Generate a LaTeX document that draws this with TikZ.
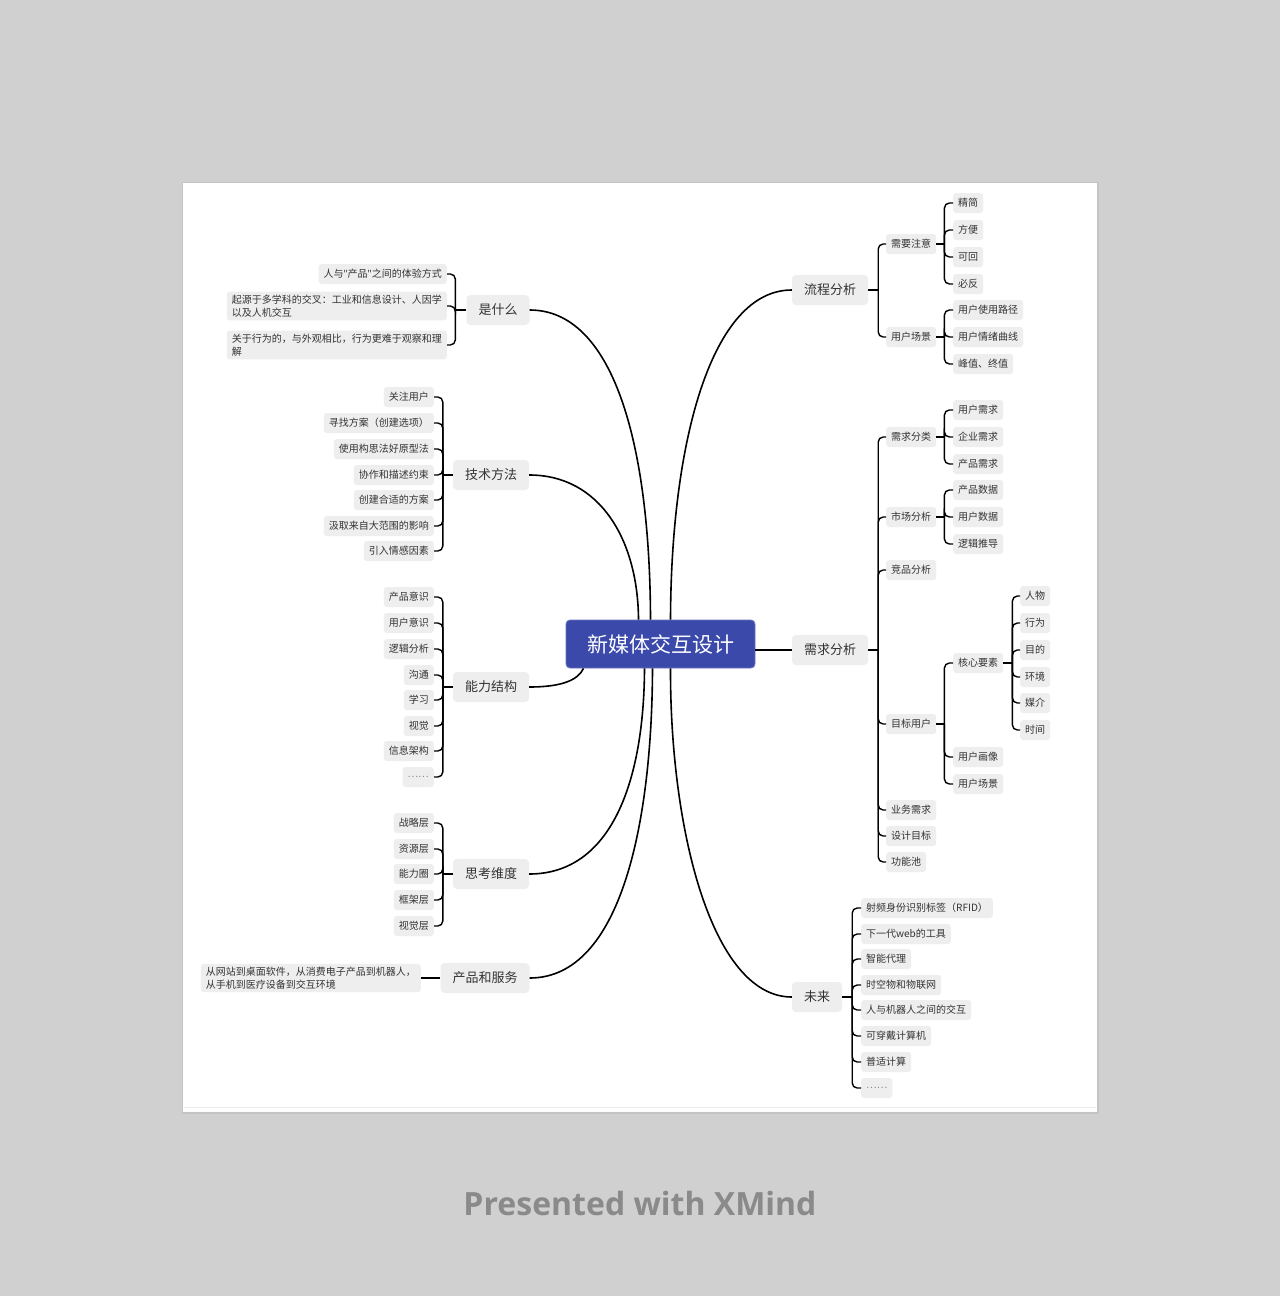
\documentclass[tikz,border=0pt]{standalone}
\usepackage{fontspec}
\setmainfont{Noto Sans CJK SC}
\newfontfamily\footfont{Open Sans}
\newfontfamily\latinq{Noto Sans}
\usetikzlibrary{calc}
\definecolor{bg}{HTML}{D0D0D0}
\definecolor{shadowc}{HTML}{C4C4C4}
\definecolor{boxg}{HTML}{EEEEEE}
\definecolor{txt}{HTML}{333333}
\definecolor{central}{HTML}{3A49AA}
\definecolor{footc}{HTML}{8A8A8A}
\newcommand\mybrR[3]{%
  \coordinate (#1j) at ($(#1.east)+(#2,0)$);
  \draw[conn] (#1.east) -- (#1j);
  \foreach \q in {#3}{\draw[conn] (#1j) |- (\q.west);}
}
\newcommand\mybrL[3]{%
  \coordinate (#1j) at ($(#1.west)+(-#2,0)$);
  \draw[conn] (#1.west) -- (#1j);
  \foreach \q in {#3}{\draw[conn] (#1j) |- (\q.east);}
}
\begin{document}
\begin{tikzpicture}[x=1pt,y=-1pt,
  conn/.style={line width=1.4pt, black, rounded corners=5pt},
  curve/.style={line width=1.6pt, black},
  ctr/.style={fill=central, draw=central!75!white, line width=0.8pt, rounded corners=4pt, text=white, font=\fontsize{21}{24}\selectfont, minimum width=189pt, minimum height=48pt, inner sep=0pt},
  mainn/.style={fill=boxg, rounded corners=4pt, text=txt, font=\fontsize{13}{15}\selectfont, minimum height=30pt, inner xsep=12pt, inner ysep=0pt},
  subn/.style={fill=boxg, rounded corners=3pt, text=txt, font=\fontsize{10}{12}\selectfont, minimum height=20pt, inner xsep=5pt, inner ysep=0pt},
  longn/.style={subn, align=left, font=\fontsize{10}{13.5}\selectfont, inner ysep=3pt},
  dotn/.style={subn, text=black!45},
]
\fill[bg] (0,0) rectangle (1280,1296);
\useasboundingbox (0,0) rectangle (1280,1296);
\fill[shadowc] (181.5,181.5) rectangle (1098.5,1113.5);
\fill[white] (183,183) rectangle (1097,1112);
\draw[black!8, line width=1.2pt] (184,1107.5) -- (1096,1107.5);

% central
\node[ctr] (c) at (660.5,644) {新媒体交互设计};

% main topics
\node[mainn] (lc) at (830,290) {流程分析};
\node[mainn] (xq) at (830,650) {需求分析};
\node[mainn] (wl) at (817,997) {未来};
\node[mainn] (ss) at (498,310) {是什么};
\node[mainn] (js) at (491,475) {技术方法};
\node[mainn] (nl) at (491,687) {能力结构};
\node[mainn] (sk) at (491,874) {思考维度};
\node[mainn] (cp) at (485,978) {产品和服务};

% curves from center
\draw[curve] (ss.east) .. controls (612,310) and (650,440) .. ([xshift=-10pt]c.north);
\draw[curve] (js.east) .. controls (600,475) and (638,540) .. ([xshift=-22pt]c.north);
\draw[curve] (lc.west) .. controls (712,290) and (671,440) .. ([xshift=10pt]c.north);
\draw[curve] (nl.east) .. controls (562,687) and (578,680) .. ([xshift=-77pt]c.south);
\draw[curve] (sk.east) .. controls (612,874) and (644,780) .. ([xshift=-16pt]c.south);
\draw[curve] (cp.east) .. controls (622,978) and (652,820) .. ([xshift=-8pt]c.south);
\draw[curve] (wl.west) .. controls (712,997) and (670,830) .. ([xshift=10pt]c.south);
\draw[curve] (xq.west -| c.east) -- (xq.west);

% ===== 流程分析 =====
\node[subn, anchor=west] (lc1) at (886,244) {需要注意};
\node[subn, anchor=west] (lc2) at (886,337) {用户场景};
\node[subn, anchor=west] (lc1a) at (953,203) {精简};
\node[subn, anchor=west] (lc1b) at (953,230) {方便};
\node[subn, anchor=west] (lc1c) at (953,257) {可回};
\node[subn, anchor=west] (lc1d) at (953,284) {必反};
\node[subn, anchor=west] (lc2a) at (953,310) {用户使用路径};
\node[subn, anchor=west] (lc2b) at (953,337) {用户情绪曲线};
\node[subn, anchor=west] (lc2c) at (953,364) {峰值、终值};
\mybrR{lc}{10}{lc1,lc2}
\mybrR{lc1}{8}{lc1a,lc1b,lc1c,lc1d}
\mybrR{lc2}{8}{lc2a,lc2b,lc2c}

% ===== 需求分析 =====
\node[subn, anchor=west] (xq1) at (886,437) {需求分类};
\node[subn, anchor=west] (xq2) at (886,517) {市场分析};
\node[subn, anchor=west] (xq3) at (886,570) {竞品分析};
\node[subn, anchor=west] (xq4) at (886,724) {目标用户};
\node[subn, anchor=west] (xq5) at (886,810) {业务需求};
\node[subn, anchor=west] (xq6) at (886,836) {设计目标};
\node[subn, anchor=west] (xq7) at (886,862) {功能池};
\node[subn, anchor=west] (xq1a) at (953,410) {用户需求};
\node[subn, anchor=west] (xq1b) at (953,437) {企业需求};
\node[subn, anchor=west] (xq1c) at (953,464) {产品需求};
\node[subn, anchor=west] (xq2a) at (953,490) {产品数据};
\node[subn, anchor=west] (xq2b) at (953,517) {用户数据};
\node[subn, anchor=west] (xq2c) at (953,544) {逻辑推导};
\node[subn, anchor=west] (xq4a) at (953,663) {核心要素};
\node[subn, anchor=west] (xq4b) at (953,757) {用户画像};
\node[subn, anchor=west] (xq4c) at (953,784) {用户场景};
\node[subn, anchor=west] (k1) at (1020,596) {人物};
\node[subn, anchor=west] (k2) at (1020,623) {行为};
\node[subn, anchor=west] (k3) at (1020,650) {目的};
\node[subn, anchor=west] (k4) at (1020,677) {环境};
\node[subn, anchor=west] (k5) at (1020,703) {媒介};
\node[subn, anchor=west] (k6) at (1020,730) {时间};
\mybrR{xq}{10}{xq1,xq2,xq3,xq4,xq5,xq6,xq7}
\mybrR{xq1}{8}{xq1a,xq1b,xq1c}
\mybrR{xq2}{8}{xq2a,xq2b,xq2c}
\mybrR{xq4}{8}{xq4a,xq4b,xq4c}
\mybrR{xq4a}{9}{k1,k2,k3,k4,k5,k6}

% ===== 未来 =====
\node[subn, anchor=west] (w1) at (861,908) {射频身份识别标签（RFID）};
\node[subn, anchor=west] (w2) at (861,934) {下一代web的工具};
\node[subn, anchor=west] (w3) at (861,959) {智能代理};
\node[subn, anchor=west] (w4) at (861,985) {时空物和物联网};
\node[subn, anchor=west] (w5) at (861,1010) {人与机器人之间的交互};
\node[subn, anchor=west] (w6) at (861,1036) {可穿戴计算机};
\node[subn, anchor=west] (w7) at (861,1062) {普适计算};
\node[dotn, anchor=west] (w8) at (861,1088) {……};
\mybrR{wl}{10}{w1,w2,w3,w4,w5,w6,w7,w8}

% ===== 是什么 =====
\node[subn, anchor=east] (ss1) at (447,274) {人与{\latinq "}产品{\latinq "}之间的体验方式};
\node[longn, anchor=east] (ss2) at (447,306) {起源于多学科的交叉：工业和信息设计、人因学\\以及人机交互};
\node[longn, anchor=east] (ss3) at (447,345) {关于行为的，与外观相比，行为更难于观察和理\\解};
\mybrL{ss}{11}{ss1,ss2,ss3}

% ===== 技术方法 =====
\node[subn, anchor=east] (j1) at (434,397) {关注用户};
\node[subn, anchor=east] (j2) at (434,423) {寻找方案（创建选项）};
\node[subn, anchor=east] (j3) at (434,449) {使用构思法好原型法};
\node[subn, anchor=east] (j4) at (434,475) {协作和描述约束};
\node[subn, anchor=east] (j5) at (434,500) {创建合适的方案};
\node[subn, anchor=east] (j6) at (434,526) {汲取来自大范围的影响};
\node[subn, anchor=east] (j7) at (434,551) {引入情感因素};
\mybrL{js}{10}{j1,j2,j3,j4,j5,j6,j7}

% ===== 能力结构 =====
\node[subn, anchor=east] (n1) at (434,597) {产品意识};
\node[subn, anchor=east] (n2) at (434,623) {用户意识};
\node[subn, anchor=east] (n3) at (434,649) {逻辑分析};
\node[subn, anchor=east] (n4) at (434,675) {沟通};
\node[subn, anchor=east] (n5) at (434,700) {学习};
\node[subn, anchor=east] (n6) at (434,726) {视觉};
\node[subn, anchor=east] (n7) at (434,751) {信息架构};
\node[dotn, anchor=east] (n8) at (434,777) {……};
\mybrL{nl}{10}{n1,n2,n3,n4,n5,n6,n7,n8}

% ===== 思考维度 =====
\node[subn, anchor=east] (s1) at (434,823) {战略层};
\node[subn, anchor=east] (s2) at (434,849) {资源层};
\node[subn, anchor=east] (s3) at (434,874) {能力圈};
\node[subn, anchor=east] (s4) at (434,900) {框架层};
\node[subn, anchor=east] (s5) at (434,926) {视觉层};
\mybrL{sk}{10}{s1,s2,s3,s4,s5}

% ===== 产品和服务 =====
\node[longn, anchor=east, font=\fontsize{10}{13}\selectfont] (cp1) at (421,978) {从网站到桌面软件，从消费电子产品到机器人，\\从手机到医疗设备到交互环境};
\draw[conn] (cp.west) -- (cp1.east);

% footer
\node[font=\footfont\bfseries\fontsize{32}{38}\selectfont, text=footc] (ft) at (640,1203) {Presented with XMind};
\end{tikzpicture}
\end{document}
